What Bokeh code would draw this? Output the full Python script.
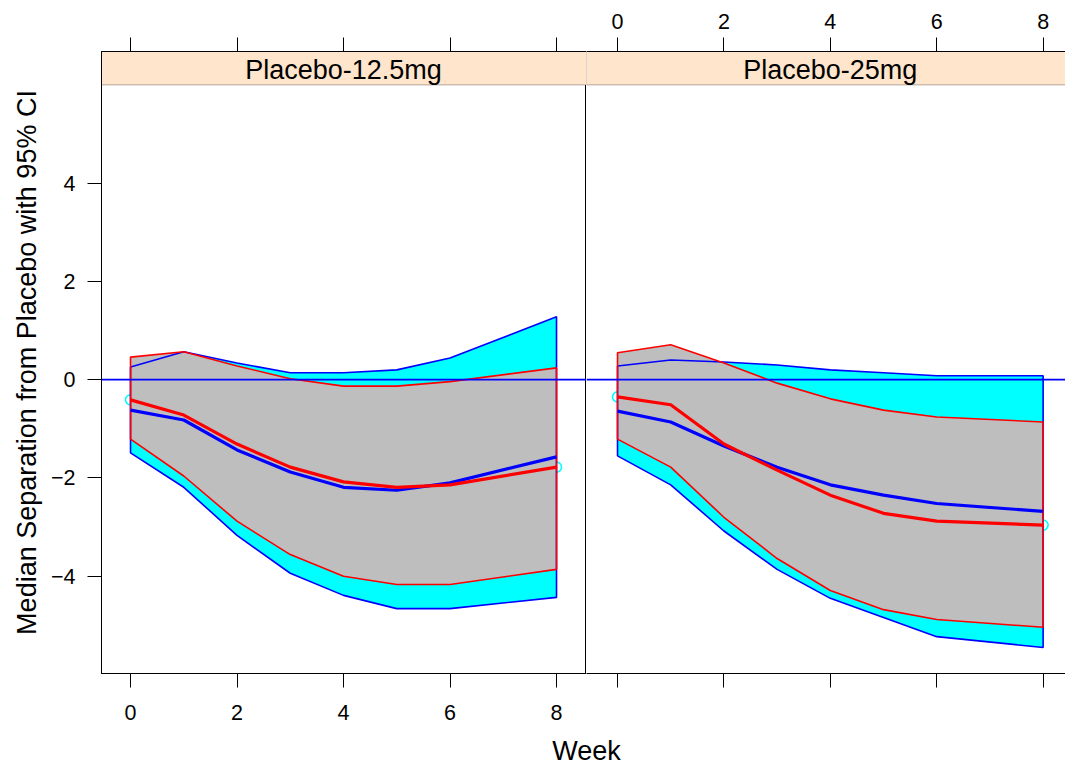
from bokeh.plotting import figure
from bokeh.models import Range1d, LinearAxis, FixedTicker, Span, BoxAnnotation, Label
from bokeh.layouts import row, column
from bokeh.embed import file_html
from bokeh.resources import INLINE

weeks = [0, 1, 2, 3, 4, 5, 6, 8]
panel_names = ["Placebo-12.5mg", "Placebo-25mg"]
x_ticks = [0, 2, 4, 6, 8]
y_ticks = [-4, -2, 0, 2, 4]
x_title = "Week"
y_title = "Median Separation from Placebo with 95% CI"

# Panel 1: Placebo-12.5mg
blue_upper_1 = [0.26, 0.57, 0.34, 0.14, 0.14, 0.20, 0.44, 1.28]
blue_median_1 = [-0.62, -0.82, -1.43, -1.88, -2.19, -2.25, -2.10, -1.57]
blue_lower_1 = [-1.49, -2.19, -3.17, -3.94, -4.39, -4.66, -4.66, -4.43]
red_upper_1 = [0.46, 0.57, 0.28, 0.02, -0.13, -0.13, -0.04, 0.24]
red_median_1 = [-0.41, -0.72, -1.31, -1.78, -2.08, -2.19, -2.14, -1.78]
red_lower_1 = [-1.21, -1.96, -2.88, -3.56, -4.00, -4.17, -4.17, -3.86]

# Panel 2: Placebo-25mg
blue_upper_2 = [0.28, 0.40, 0.36, 0.30, 0.20, 0.14, 0.08, 0.08]
blue_median_2 = [-0.64, -0.86, -1.35, -1.78, -2.14, -2.35, -2.52, -2.68]
blue_lower_2 = [-1.55, -2.14, -3.08, -3.86, -4.45, -4.84, -5.23, -5.45]
red_upper_2 = [0.55, 0.71, 0.34, -0.07, -0.39, -0.62, -0.76, -0.86]
red_median_2 = [-0.35, -0.51, -1.31, -1.84, -2.35, -2.72, -2.88, -2.96]
red_lower_2 = [-1.21, -1.78, -2.80, -3.64, -4.29, -4.68, -4.88, -5.04]

FONT = "Liberation Sans"
TICK_FS = "21.5px"
LABEL_FS = "27px"
Y_MIN, Y_MAX, STRIP_Y0 = -5.98, 6.68, 6.0

LEFT_BORDER = 101
TOP_BORDER = 51
FRAME_H = 622
BOTTOM_BORDER = 50
P1_FRAME_W = 485
P2_FRAME_W = 479
TITLE_H = 43
PX_PER_WEEK = 53.2


def style_axis(ax, show_labels=True):
    ax.ticker = FixedTicker(ticks=x_ticks)
    ax.major_tick_out = 14
    ax.major_tick_in = 0
    ax.minor_tick_out = 0
    ax.minor_tick_in = 0
    ax.major_tick_line_color = "black"
    ax.axis_line_color = "black"
    ax.major_label_text_font = FONT
    ax.major_label_text_font_size = TICK_FS
    ax.major_label_text_color = "black"
    if not show_labels:
        ax.major_label_overrides = {t: "" for t in x_ticks}


def make_panel(name, xr, width, bu, bm, bl, ru, rm, rl, first):
    p = figure(frame_width=width, frame_height=FRAME_H,
               x_range=xr, y_range=Range1d(Y_MIN, Y_MAX),
               output_backend="svg", toolbar_location=None,
               min_border_left=LEFT_BORDER if first else 0, min_border_right=0,
               min_border_top=TOP_BORDER, min_border_bottom=BOTTOM_BORDER,
               y_axis_location="left" if first else None,
               background_fill_color="white", border_fill_color="white")
    p.grid.visible = False
    p.outline_line_color = "black" if first else None
    p.outline_line_width = 1

    style_axis(p.xaxis[0], show_labels=first)
    p.xaxis[0].major_label_standoff = 17
    top = LinearAxis()
    style_axis(top, show_labels=not first)
    top.major_label_standoff = 9
    p.add_layout(top, "above")
    if first:
        ya = p.yaxis[0]
        ya.ticker = FixedTicker(ticks=y_ticks)
        ya.major_tick_out = 14
        ya.major_tick_in = 0
        ya.minor_tick_out = 0
        ya.minor_tick_in = 0
        ya.major_tick_line_color = "black"
        ya.major_label_standoff = 12
        ya.major_label_text_font = FONT
        ya.major_label_text_font_size = TICK_FS
        ya.major_label_text_color = "black"
        ya.axis_label = y_title
        ya.axis_label_text_font = FONT
        ya.axis_label_text_font_size = LABEL_FS
        ya.axis_label_text_font_style = "normal"
        ya.axis_label_text_color = "black"
        ya.axis_label_standoff = 6

    # strip
    p.add_layout(BoxAnnotation(bottom=STRIP_Y0, fill_color="#FFE5CC", fill_alpha=1.0,
                               line_color="black", line_width=1, level="underlay"))
    p.add_layout(Label(x=4, y=(STRIP_Y0 + Y_MAX) / 2 - 0.03, text=name,
                       text_align="center", text_baseline="middle",
                       text_font=FONT, text_font_size=LABEL_FS, text_color="black"))

    # endpoint markers
    p.scatter(x=[weeks[0], weeks[-1]], y=[rm[0], rm[-1]], marker="circle", size=10,
              fill_color=None, line_color="cyan", line_width=1.6)

    xs_band = weeks + weeks[::-1]
    blue_band = bu + bl[::-1]
    red_band = ru + rl[::-1]
    p.patch(xs_band, blue_band, fill_color="cyan", line_color=None)
    p.patch(xs_band, red_band, fill_color="#BEBEBE", line_color=None)
    p.patch(xs_band, blue_band, fill_color=None, line_color="blue", line_width=1.6)
    p.patch(xs_band, red_band, fill_color=None, line_color="red", line_width=1.6)

    p.add_layout(Span(location=0, dimension="width", line_color="#0000FF", line_width=1.8))

    p.line(weeks, bm, line_color="blue", line_width=3.2)
    p.line(weeks, rm, line_color="red", line_width=3.2)
    return p


p1 = make_panel(panel_names[0], Range1d(-0.545, -0.545 + P1_FRAME_W / 53.25), P1_FRAME_W,
                blue_upper_1, blue_median_1, blue_lower_1,
                red_upper_1, red_median_1, red_lower_1, True)
p2 = make_panel(panel_names[1], Range1d(-0.583, -0.583 + P2_FRAME_W / PX_PER_WEEK), P2_FRAME_W,
                blue_upper_2, blue_median_2, blue_lower_2,
                red_upper_2, red_median_2, red_lower_2, False)

total_w = LEFT_BORDER + P1_FRAME_W + P2_FRAME_W
p3 = figure(frame_width=total_w, frame_height=TITLE_H,
            x_range=Range1d(0, total_w), y_range=Range1d(0, TITLE_H),
            output_backend="svg", toolbar_location=None,
            min_border_left=0, min_border_right=0, min_border_top=0, min_border_bottom=0,
            x_axis_location=None, y_axis_location=None,
            background_fill_color="white", border_fill_color="white")
p3.grid.visible = False
p3.outline_line_color = None
p3.add_layout(Label(x=LEFT_BORDER + P1_FRAME_W, y=16, text=x_title,
                    text_align="center", text_baseline="middle",
                    text_font=FONT, text_font_size=LABEL_FS, text_color="black"))

layout = column(row(p1, p2), p3)

open("out.html", "w").write(file_html(layout, INLINE))
